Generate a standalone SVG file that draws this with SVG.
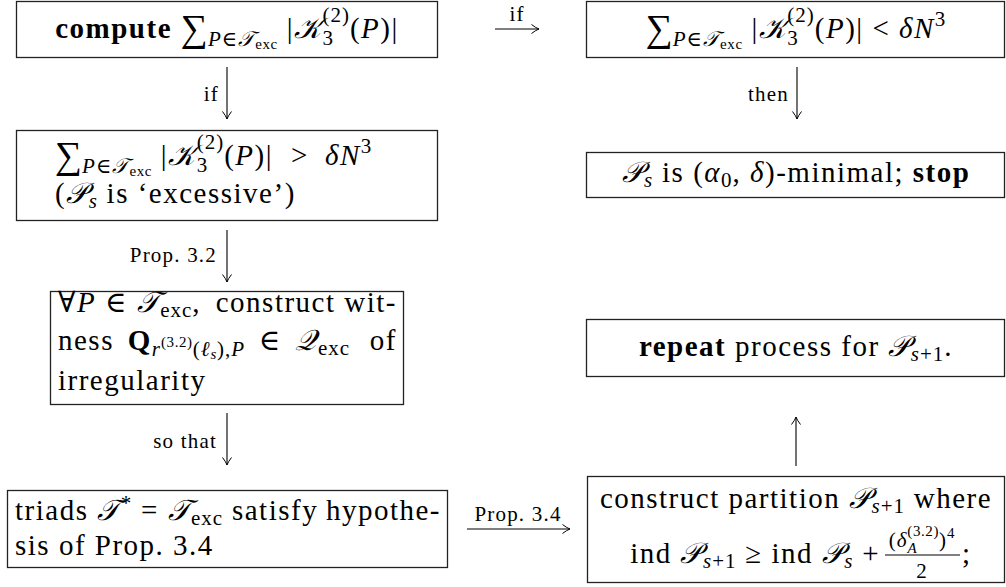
<svg xmlns="http://www.w3.org/2000/svg" width="1006" height="587" viewBox="0 0 1006 587">
<defs>
<style>
.t{font-family:"Liberation Serif","DejaVu Serif",serif;font-size:29px;letter-spacing:1.5px;fill:#000}
.s{font-size:21px;letter-spacing:1px}
.ss{font-size:15px;letter-spacing:0.6px}
.lbl{font-family:"Liberation Serif","DejaVu Serif",serif;font-size:21px;letter-spacing:1.2px;fill:#000}
.i{font-style:italic}
.b{font-weight:bold}
.cal{font-style:italic}
.sum{font-size:38px;letter-spacing:0}
.box{fill:#fff;stroke:#222;stroke-width:1.3}
.con line{stroke:#000;stroke-width:1.1;fill:none}
</style>
<marker id="ah" markerUnits="userSpaceOnUse" viewBox="-9 -6 10 12" refX="0" refY="0" markerWidth="10" markerHeight="12" orient="auto">
<path d="M -7.5 -4.5 Q -3 -1 0 0 Q -3 1 -7.5 4.5" fill="none" stroke="#000" stroke-width="1"/>
</marker>
</defs>
<rect width="1006" height="587" fill="#fff"/>

<g id="compute">
<rect class="box" x="16.5" y="1.5" width="421" height="56"/>
<text class="t" x="227" y="38" text-anchor="middle"><tspan class="b">compute </tspan><tspan class="sum" dy="3">∑</tspan><tspan class="s i" dy="5">P</tspan><tspan class="s">∈</tspan><tspan class="s cal">𝒯</tspan><tspan class="ss" dy="3">exc</tspan><tspan dy="-11"> |</tspan><tspan class="cal">𝒦</tspan><tspan class="s" dy="7">3</tspan><tspan class="s" dx="-11.5" dy="-23">(2)</tspan><tspan dy="16">(</tspan><tspan class="i">P</tspan><tspan>)|</tspan></text>
</g>

<g id="small">
<rect class="box" x="586.5" y="1.5" width="418" height="56"/>
<text class="t" x="796" y="38" text-anchor="middle"><tspan class="sum" dy="3">∑</tspan><tspan class="s i" dy="5">P</tspan><tspan class="s">∈</tspan><tspan class="s cal">𝒯</tspan><tspan class="ss" dy="3">exc</tspan><tspan dy="-11"> |</tspan><tspan class="cal">𝒦</tspan><tspan class="s" dy="7">3</tspan><tspan class="s" dx="-11.5" dy="-23">(2)</tspan><tspan dy="16">(</tspan><tspan class="i">P</tspan><tspan>)| &lt; </tspan><tspan class="i">δN</tspan><tspan class="s" dy="-12">3</tspan></text>
</g>

<g id="excessive">
<rect class="box" x="16.5" y="130.5" width="421" height="90"/>
<text class="t" x="55" y="165"><tspan class="sum" dy="3">∑</tspan><tspan class="s i" dy="5">P</tspan><tspan class="s">∈</tspan><tspan class="s cal">𝒯</tspan><tspan class="ss" dy="3">exc</tspan><tspan dy="-11"> |</tspan><tspan class="cal">𝒦</tspan><tspan class="s" dy="7">3</tspan><tspan class="s" dx="-11.5" dy="-23">(2)</tspan><tspan dy="16">(</tspan><tspan class="i">P</tspan><tspan>)|</tspan></text>
<text class="t" x="291" y="165">&gt;</text>
<text class="t" x="325" y="165"><tspan class="i">δN</tspan><tspan class="s" dy="-12">3</tspan></text>
<text class="t" x="55" y="203"><tspan>(</tspan><tspan class="cal">𝒫</tspan><tspan class="s i" dy="5">s</tspan><tspan dy="-5"> is ‘excessive’)</tspan></text>
</g>

<g id="minimal">
<rect class="box" x="586.5" y="152.5" width="418" height="45"/>
<text class="t" x="796" y="182" text-anchor="middle"><tspan class="cal">𝒫</tspan><tspan class="s i" dy="5">s</tspan><tspan dy="-5"> is (</tspan><tspan class="i">α</tspan><tspan class="s" dy="5">0</tspan><tspan dy="-5">, </tspan><tspan class="i">δ</tspan><tspan>)-minimal; </tspan><tspan class="b">stop</tspan></text>
</g>

<g id="witness">
<rect class="box" x="50.5" y="291.5" width="353" height="113"/>
<text class="t" x="58" y="312"><tspan>∀</tspan><tspan class="i">P</tspan><tspan> ∈ </tspan><tspan class="cal">𝒯</tspan><tspan class="s" dy="5">exc</tspan><tspan dy="-5">,</tspan></text>
<text class="t" x="397" y="312" text-anchor="end">construct wit-</text>
<text class="t" x="58" y="350" word-spacing="5"><tspan>ness </tspan><tspan class="b">Q</tspan><tspan class="s i" dy="6">r</tspan><tspan class="ss" dy="-9">(3.2)</tspan><tspan class="s" dy="9">(</tspan><tspan class="s i">ℓ</tspan><tspan class="ss i" dy="3">s</tspan><tspan class="s" dy="-3">),</tspan><tspan class="s i">P</tspan><tspan dy="-6"> ∈ </tspan><tspan class="cal">𝒬</tspan><tspan class="s" dy="5">exc</tspan></text>
<text class="t" x="397" y="350" text-anchor="end">of</text>
<text class="t" x="58" y="390">irregularity</text>
</g>

<g id="repeat">
<rect class="box" x="586.5" y="319.5" width="418" height="57"/>
<text class="t" x="796" y="356" text-anchor="middle"><tspan class="b">repeat</tspan><tspan> process for </tspan><tspan class="cal">𝒫</tspan><tspan class="s i" dy="5">s</tspan><tspan class="s">+1</tspan><tspan dy="-5">.</tspan></text>
</g>

<g id="triads">
<rect class="box" x="7.5" y="490.5" width="440" height="77"/>
<text class="t" x="15" y="520"><tspan>triads </tspan><tspan class="cal">𝒯</tspan><tspan class="s" dy="-10">*</tspan><tspan dy="10"> = </tspan><tspan class="cal">𝒯</tspan><tspan class="s" dy="5">exc</tspan><tspan dy="-5"> satisfy</tspan></text>
<text class="t" x="441" y="520" text-anchor="end">hypothe-</text>
<text class="t" x="15" y="555">sis of Prop. 3.4</text>
</g>

<g id="partition">
<rect class="box" x="587.5" y="476.5" width="417" height="106"/>
<text class="t" x="796" y="508" text-anchor="middle"><tspan>construct partition </tspan><tspan class="cal">𝒫</tspan><tspan class="s i" dy="5">s</tspan><tspan class="s">+1</tspan><tspan dy="-5"> where</tspan></text>
<text class="t" x="880" y="563" text-anchor="end"><tspan>ind </tspan><tspan class="cal">𝒫</tspan><tspan class="s i" dy="5">s</tspan><tspan class="s">+1</tspan><tspan dy="-5"> ≥ ind </tspan><tspan class="cal">𝒫</tspan><tspan class="s i" dy="5">s</tspan><tspan dy="-5"> +</tspan></text>
<text class="t s" x="922" y="547" text-anchor="middle"><tspan>(</tspan><tspan class="i">δ</tspan><tspan class="ss i" dy="6">A</tspan><tspan class="ss" dx="-10" dy="-17">(3.2)</tspan><tspan dy="11">)</tspan><tspan class="ss" dy="-9">4</tspan></text>
<line x1="885" y1="555" x2="960" y2="555" stroke="#000" stroke-width="1"/>
<text class="t s" x="922" y="578" text-anchor="middle">2</text>
<text class="t" x="962" y="563">;</text>
</g>

<g id="connectors" class="con">
<line x1="495" y1="29" x2="539" y2="29" marker-end="url(#ah)"/>
<line x1="227" y1="67" x2="227" y2="119" marker-end="url(#ah)"/>
<line x1="797" y1="67" x2="797" y2="119" marker-end="url(#ah)"/>
<line x1="227" y1="230" x2="227" y2="282" marker-end="url(#ah)"/>
<line x1="227" y1="413" x2="227" y2="465" marker-end="url(#ah)"/>
<line x1="796" y1="466" x2="796" y2="417" marker-end="url(#ah)"/>
<line x1="467" y1="529" x2="570" y2="529" marker-end="url(#ah)"/>
<text class="lbl" x="517" y="21" text-anchor="middle">if</text>
<text class="lbl" x="219" y="101" text-anchor="end">if</text>
<text class="lbl" x="789" y="101" text-anchor="end">then</text>
<text class="lbl" x="217" y="262" text-anchor="end">Prop. 3.2</text>
<text class="lbl" x="217" y="448" text-anchor="end">so that</text>
<text class="lbl" x="518" y="521" text-anchor="middle">Prop. 3.4</text>
</g>
</svg>
